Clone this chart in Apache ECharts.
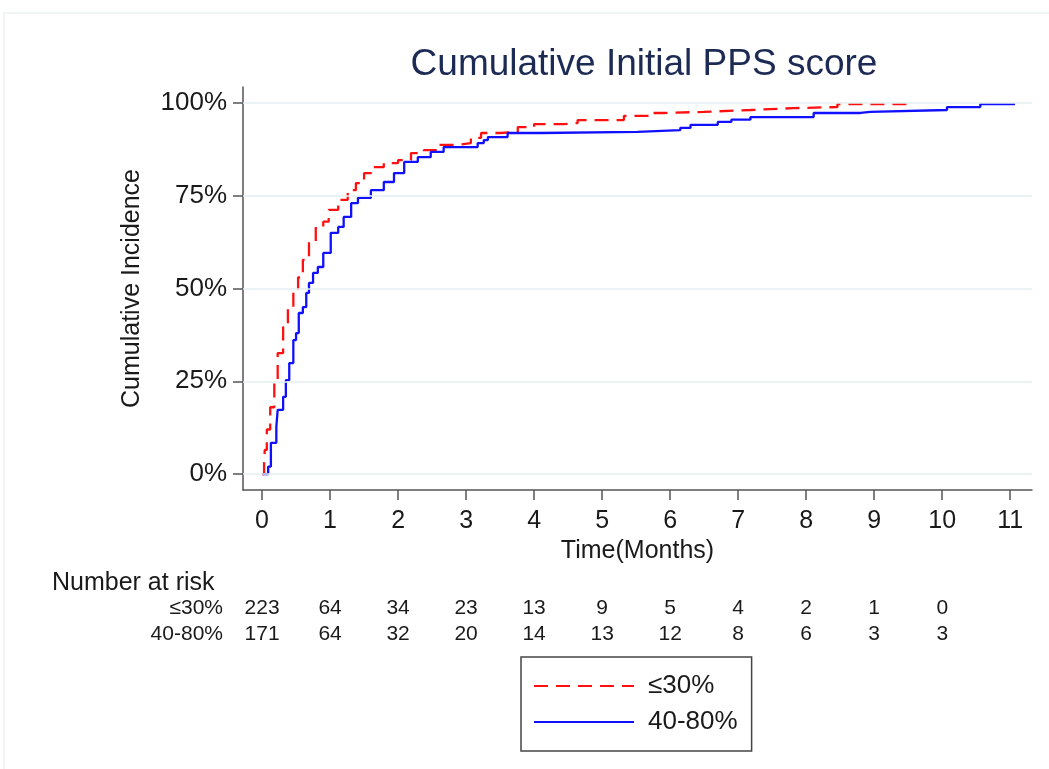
<!DOCTYPE html>
<html>
<head>
<meta charset="utf-8">
<script src="https://cdn.jsdelivr.net/npm/echarts@6/dist/echarts.min.js"></script>
<style>html,body{margin:0;padding:0;background:#fff;}#c{width:1049px;height:769px;}</style>
</head>
<body>
<div id="c"></div>
<script>
// ---- data ----
const titleText = 'Cumulative Initial PPS score';
const xTicks = [0,1,2,3,4,5,6,7,8,9,10,11];
const yTicks = [0,25,50,75,100];
const riskTimes = [0,1,2,3,4,5,6,7,8,9,10];
const groupNames = ['≤30%', '40-80%'];
const riskLow = [223,64,34,23,13,9,5,4,2,1,0];
const riskHigh = [171,64,32,20,14,13,12,8,6,3,3];
// [months, cumulative incidence %]
const curveLow = [
  [0,0],[0.03,3],[0.04,6.5],[0.07,12],[0.12,18],[0.18,25],[0.23,32.6],[0.31,39.6],
  [0.38,45],[0.46,49.6],[0.53,53],[0.60,57.7],[0.69,62.3],[0.79,66.6],[0.90,68],
  [0.98,71.2],[1.12,73.9],[1.26,76.5],[1.38,78.4],[1.50,81.1],[1.64,82.7],[1.79,83.8],
  [2.00,84.6],[2.19,86.5],[2.38,87.3],[2.58,88.7],[2.88,89.2],[3.07,90.6],[3.22,91.9],
  [3.50,92.2],[3.76,93.5],[4.00,94.3],[4.43,94.6],[4.64,95.4],[5.32,96.5],[5.71,97.3],
  [5.90,97.6],[6.49,98.1],[7.18,98.6],[7.81,98.9],[8.46,99.7],[9.49,99.8]
];
const curveHigh = [
  [0.01,0],[0.09,2],[0.13,8.4],[0.21,12.7],[0.23,17.3],[0.31,20.8],[0.35,25.3],[0.40,29.9],
  [0.46,36.1],[0.50,38],[0.54,43.4],[0.60,45],[0.65,48.8],[0.69,51.5],[0.75,54.2],
  [0.82,55.8],[0.90,59.6],[1.01,65],[1.12,66.6],[1.20,69.3],[1.31,73],[1.41,74.4],
  [1.60,76.5],[1.79,78.7],[1.94,81.1],[2.09,84.1],[2.29,85.4],[2.48,86.8],[2.67,88.1],
  [3.17,89.2],[3.26,90],[3.32,90.8],[3.61,91.9],[4.10,92.2],[5.52,92.7],[6.15,93.3],
  [6.30,94.1],[6.70,94.9],[6.90,95.5],[7.18,96.2],[8.11,97.3],[8.80,97.6],[8.94,98.1],
  [10.07,98.9],[10.56,99.7],[11.07,99.8]
];

const X_MIN = -0.28, X_MAX = 11.32, Y_MIN = -4.3, Y_MAX = 104.3;
const FONT = 'Liberation Sans, Arial, sans-serif';
const TXT = '#1a1a1a';

const chart = echarts.init(document.getElementById('c'), null, {renderer: 'canvas'});

function riskAxis(name, values, offset) {
  return {
    type: 'value', gridIndex: 0, position: 'bottom', offset: offset,
    min: X_MIN, max: X_MAX,
    axisLine: {show: false, onZero: false}, axisTick: {show: false}, splitLine: {show: false},
    axisLabel: {
      customValues: riskTimes, margin: 0, verticalAlign: 'middle',
      fontSize: 21, fontFamily: FONT, color: TXT,
      formatter: function (v) { const i = riskTimes.indexOf(Math.round(v)); return i >= 0 ? String(values[i]) : ''; }
    },
    name: name, nameLocation: 'start', nameGap: 20,
    nameTextStyle: {fontSize: 21, fontFamily: FONT, color: TXT, verticalAlign: 'middle'}
  };
}

const option = {
  backgroundColor: '#fff',
  animation: false,
  title: {
    text: titleText, left: 639, top: 41, textAlign: 'center',
    textStyle: {fontSize: 37, fontWeight: 'normal', fontFamily: FONT, color: '#1c2a54'}
  },
  grid: {left: 243, right: 17, top: 87, bottom: 279, containLabel: false},
  xAxis: [
    {
      type: 'value', min: X_MIN, max: X_MAX,
      name: 'Time(Months)', nameLocation: 'middle', nameGap: 45,
      nameTextStyle: {fontSize: 25, fontFamily: FONT, color: TXT},
      axisLine: {show: true, onZero: false, lineStyle: {color: '#555', width: 1.5}},
      axisTick: {show: true, customValues: xTicks, length: 10, lineStyle: {color: '#555', width: 1.5}},
      axisLabel: {customValues: xTicks, margin: 19, fontSize: 25, fontFamily: FONT, color: TXT,
        formatter: function (v) { return String(Math.round(v)); }},
      splitLine: {show: false}
    },
    riskAxis(groupNames[0], riskLow, 118),
    riskAxis(groupNames[1], riskHigh, 144)
  ],
  yAxis: {
    type: 'value', min: Y_MIN, max: Y_MAX,
    name: 'Cumulative Incidence', nameLocation: 'middle', nameGap: 98, nameRotate: 90,
    nameTextStyle: {fontSize: 25, fontFamily: FONT, color: TXT},
    axisLine: {show: true, onZero: false, lineStyle: {color: '#555', width: 1.5}},
    axisTick: {show: true, customValues: yTicks, length: 10, lineStyle: {color: '#555', width: 1.5}},
    axisLabel: {customValues: yTicks, margin: 16, fontSize: 26, fontFamily: FONT, color: TXT,
      formatter: function (v) { return Math.round(v) + '%'; }},
    splitLine: {show: false}
  },
  legend: {
    orient: 'vertical', left: 521, top: 657,
    data: groupNames,
    itemWidth: 100, itemHeight: 22, itemGap: 10, itemTextGap: 20,
    itemStyle: {opacity: 0},
    padding: [16, 14, 16, 12],
    borderColor: '#444', borderWidth: 1.5, backgroundColor: '#fff',
    textStyle: {fontSize: 26, fontFamily: FONT, color: TXT, padding: [0, 0, 0, 9]}
  },
  graphic: [
    {type: 'rect', silent: true, z: -10, shape: {x: 4, y: 13, width: 1060, height: 770},
      style: {fill: 'none', stroke: '#edf1f1', lineWidth: 1.5}},
    {type: 'text', left: 52, top: 571,
      style: {text: 'Number at risk', fontSize: 25, fontFamily: FONT, fill: TXT}}
  ],
  series: [
    {
      name: 'grid', type: 'line', data: [], z: 1, silent: true, symbol: 'none',
      markLine: {
        silent: true, symbol: 'none', label: {show: false},
        lineStyle: {color: '#e4eef0', type: 'solid', width: 1.5},
        data: yTicks.map(function (v) { return {yAxis: v}; })
      }
    },
    {
      name: groupNames[0], type: 'line', step: 'end', data: curveLow, z: 3,
      symbol: 'none', showSymbol: false,
      lineStyle: {color: '#ff1010', width: 2.3, type: [14, 8]}, itemStyle: {color: '#ff1010'}
    },
    {
      name: groupNames[1], type: 'line', step: 'end', data: curveHigh, z: 4,
      symbol: 'none', showSymbol: false,
      lineStyle: {color: '#1010ff', width: 2.3, type: 'solid'}, itemStyle: {color: '#1010ff'}
    }
  ]
};
chart.setOption(option);
</script>
</body>
</html>
